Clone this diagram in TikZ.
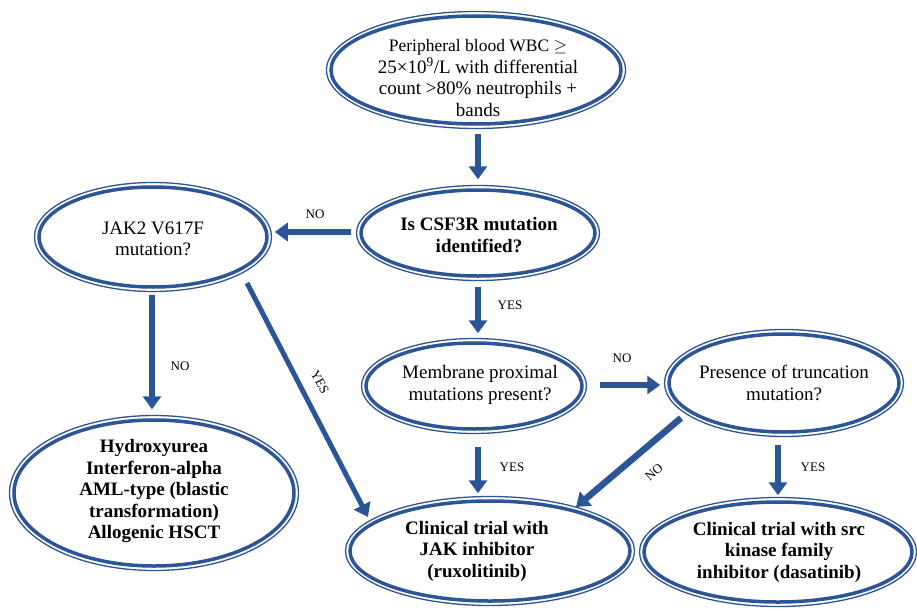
\documentclass[tikz,border=0pt]{standalone}
\usepackage{fontspec}
\setmainfont{Liberation Serif}
\usetikzlibrary{shapes.geometric,arrows.meta,calc}
\definecolor{fblue}{HTML}{2C5597}
% #1 name, #2 x, #3 y, #4 rx, #5 ry, #6 text dx, #7 text dy, #8 text
\newcommand\mkbubble[8]{%
  \node[bubble, minimum width={2*#4}, minimum height={2*#5}] (#1) at (#2,#3) {};
  \draw[ring] (#1.center) ellipse [x radius={#4+4.5}, y radius={#5+4.5}];
  \node[btext] (#1t) at ($(#1.center)+(#6,#7)$) {#8};}
\begin{document}
\begin{tikzpicture}[x=1pt,y=-1pt,
  bubble/.style={ellipse, draw=fblue, line width=3.5pt, inner sep=0pt},
  btext/.style={align=center, inner sep=0pt, font=\fontsize{19}{21.5}\selectfont},
  ring/.style={draw=fblue, line width=1.3pt},
  arr/.style={draw=fblue, line width=6.5pt, -{Triangle[width=18pt,length=13pt]}},
  thinarr/.style={arr, line width=5pt},
  lbl/.style={font=\fontsize{13}{15}\selectfont, inner sep=0pt}]
\useasboundingbox (0,0) rectangle (917,610);

\mkbubble{top}{476}{70}{145}{54}{2}{8}{\fontsize{17.5}{19.5}\selectfont Peripheral blood WBC $\geq$\\25×10\textsuperscript{9}/L with differential\\count >80\% neutrophils +\\bands}
\mkbubble{csf}{478}{233}{117}{43}{1}{2}{\bfseries Is CSF3R mutation\\\bfseries identified?}
\mkbubble{jak2}{153}{237}{114}{50}{0}{2}{JAK2 V617F\\mutation?}
\mkbubble{mem}{474}{386}{108}{43}{6}{-1}{Membrane proximal\\mutations present?}
\mkbubble{trunc}{784}{383}{115}{49}{0}{0}{Presence of truncation\\mutation?}
\mkbubble{hydro}{154}{493}{140}{73}{0}{-2}{\bfseries Hydroxyurea\\\bfseries Interferon-alpha\\\bfseries AML-type (blastic\\\bfseries transformation)\\\bfseries Allogenic HSCT}
\mkbubble{jakinh}{490}{551}{140}{50}{-13}{0}{\bfseries Clinical trial with\\\bfseries JAK inhibitor\\\bfseries (ruxolitinib)}
\mkbubble{src}{778}{552}{134}{50}{1}{0}{\bfseries Clinical trial with src\\\bfseries kinase family\\\bfseries inhibitor (dasatinib)}

\draw[arr] ($(top.south)+(2,8)$) -- ($(top.south |- csf.north)+(2,-9)$);
\draw[arr] ($(csf.west)+(-8,-1)$) -- ($(csf.west -| jak2.east)+(6,-1)$);
\draw[arr] ($(csf.south)+(0,9)$) -- ($(csf.south |- mem.north)+(0,-8)$);
\draw[arr] ($(jak2.south)+(-1,6)$) -- ($(jak2.south |- hydro.north)+(-1,-9)$);
\draw[thinarr] ($(jak2.center)+(94,46)$) -- ($(jakinh.center)+(-122,-34)$);
\draw[arr] ($(mem.east)+(16,-1)$) -- ($(mem.east -| trunc.west)+(-7,-1)$);
\draw[arr] ($(mem.south)+(4,16)$) -- ($(mem.south |- jakinh.north)+(4,-6)$);
\draw[arr] ($(trunc.center)+(-103,35)$) -- ($(jakinh.center)+(86,-44)$);
\draw[arr] ($(src.north |- trunc.south)+(0,11)$) -- ($(src.north)+(0,-5)$);

\node[lbl] (l1) at (315,214) {NO};
\node[lbl] (l2) at (510,305) {YES};
\node[lbl] (l3) at (180,366) {NO};
\node[lbl, rotate=-62] (l4) at (320,382) {YES};
\node[lbl] (l5) at (622,358) {NO};
\node[lbl] (l6) at (512,467) {YES};
\node[lbl, rotate=42] (l7) at (654,472) {NO};
\node[lbl] (l8) at (813,467) {YES};
\end{tikzpicture}
\end{document}
